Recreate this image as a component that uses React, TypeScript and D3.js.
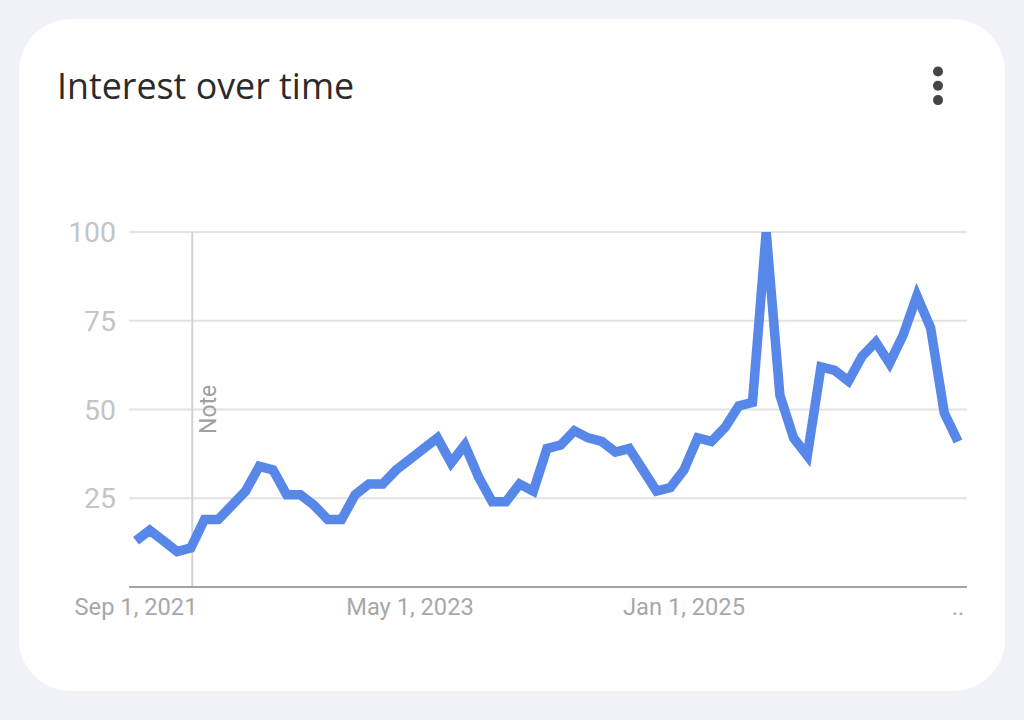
import React, { useEffect, useRef } from "react";
import * as d3 from "d3";

const title = "Interest over time";
const noteLabel = "Note";

// one value per month, Sep 2021 onwards
const interest = [
  13, 16, 13, 10, 11, 19, 19, 23, 27, 34, 33, 26, 26, 23, 19, 19, 26, 29, 29, 33, 36,
  39, 42, 35, 40, 31, 24, 24, 29, 27, 39, 40, 44, 42, 41, 38, 39, 33, 27, 28, 33,
  42, 41, 45, 51, 52, 100, 54, 42, 37, 62, 61, 58, 65, 69, 63, 71, 82, 73, 49, 41,
];

const yTicks = [25, 50, 75, 100];
const xTickMonths = [0, 20, 40, 60];
const xTickLabels = ["Sep 1, 2021", "May 1, 2023", "Jan 1, 2025", ".."];
const noteMonth = 4;
const menuDots = [0, 1, 2];

const App: React.FC = () => {
  const svgRef = useRef<SVGSVGElement | null>(null);

  useEffect(() => {
    const svg = d3.select(svgRef.current);
    svg.selectAll("*").remove();

    const w = 1024;
    const h = 720;
    const plot = { left: 129, right: 967, top: 232, bottom: 587 };

    const x = d3.scaleLinear().domain([0, interest.length - 1]).range([136, 958]);
    const y = d3.scaleLinear().domain([0, 100]).range([plot.bottom, plot.top]);

    svg.append("rect").attr("width", w).attr("height", h).attr("fill", "#f0f2f8");

    // card
    svg.append("rect")
      .attr("x", 19)
      .attr("y", 19)
      .attr("width", 986)
      .attr("height", 672)
      .attr("rx", 52)
      .attr("fill", "#ffffff");

    svg.append("text")
      .attr("x", 57)
      .attr("y", 99)
      .style("font-family", "'Open Sans'")
      .style("font-size", "35.8px")
      .style("fill", "#2b2b2b")
      .text(title);

    // three dots menu
    svg.selectAll(".dot")
      .data(menuDots)
      .enter()
      .append("circle")
      .attr("class", "dot")
      .attr("cx", 938)
      .attr("cy", (d) => 71.5 + d * 14.3)
      .attr("r", 5)
      .attr("fill", "#454545");

    // gridlines
    svg.selectAll(".grid")
      .data(yTicks)
      .enter()
      .append("line")
      .attr("class", "grid")
      .attr("x1", plot.left)
      .attr("x2", plot.right)
      .attr("y1", (d) => y(d))
      .attr("y2", (d) => y(d))
      .attr("stroke", "#e2e2e2")
      .attr("stroke-width", 2);

    svg.selectAll(".y-label")
      .data(yTicks)
      .enter()
      .append("text")
      .attr("class", "y-label")
      .attr("x", 116)
      .attr("y", (d) => y(d) + 10)
      .attr("text-anchor", "end")
      .style("font-family", "Roboto")
      .style("font-size", "28.4px")
      .style("fill", "#c4c4c4")
      .text((d) => d);

    // note marker
    svg.append("line")
      .attr("x1", x(noteMonth) + 1.5)
      .attr("x2", x(noteMonth) + 1.5)
      .attr("y1", plot.top)
      .attr("y2", plot.bottom)
      .attr("stroke", "#d2d2d2")
      .attr("stroke-width", 2);

    svg.append("text")
      .attr("transform", `translate(${x(noteMonth) + 25.5}, 434) rotate(-90)`)
      .style("font-family", "Roboto")
      .style("font-size", "23px")
      .style("fill", "#a0a0a0")
      .text(noteLabel);

    // baseline
    svg.append("line")
      .attr("x1", plot.left)
      .attr("x2", plot.right)
      .attr("y1", plot.bottom)
      .attr("y2", plot.bottom)
      .attr("stroke", "#a3a3a3")
      .attr("stroke-width", 2);

    svg.selectAll(".x-label")
      .data(xTickMonths)
      .enter()
      .append("text")
      .attr("class", "x-label")
      .attr("x", (d) => x(d))
      .attr("y", 615)
      .attr("text-anchor", "middle")
      .style("font-family", "Roboto")
      .style("font-size", "23.7px")
      .style("fill", "#a8a8a8")
      .text((_, i) => xTickLabels[i]);

    // the peak is cut off at the top of the plot
    svg.append("clipPath")
      .attr("id", "plot-clip")
      .append("rect")
      .attr("x", plot.left)
      .attr("y", plot.top)
      .attr("width", plot.right - plot.left)
      .attr("height", plot.bottom - plot.top);

    const line = d3.line<number>()
      .x((_, i) => x(i))
      .y((d) => y(d));

    svg.append("path")
      .datum(interest)
      .attr("d", line)
      .attr("clip-path", "url(#plot-clip)")
      .attr("fill", "none")
      .attr("stroke", "#5787e8")
      .attr("stroke-width", 9.5)
      .attr("stroke-linejoin", "miter");
  }, []);

  return (
    <svg
      ref={svgRef}
      width={1024}
      height={720}
      style={{ position: "absolute", left: 0, top: 0 }}
    ></svg>
  );
};

export default App;
